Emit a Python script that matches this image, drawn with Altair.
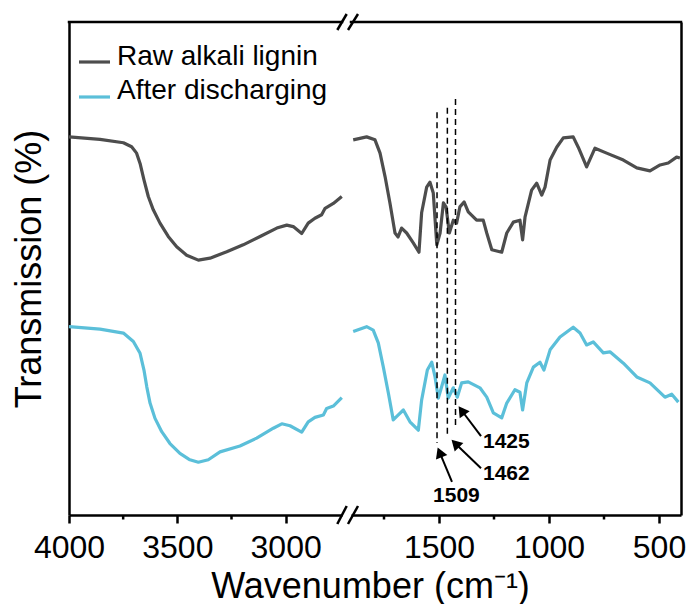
import altair as alt
import pandas as pd

FONT = "Liberation Sans"
SAMPLES = ["Raw alkali lignin", "After discharging"]
COLORS = ["#4d4d4d", "#5bbfd9"]

# ---- spectra, high-wavenumber window (4000-2740 cm-1) ----
raw_hi_wn = [4000, 3857, 3749, 3711, 3688, 3672, 3654, 3634, 3611, 3580, 3542,
             3503, 3457, 3403, 3349, 3272, 3196, 3118, 3041, 2995, 2965, 2926,
             2896, 2865, 2834, 2818, 2780, 2741]
raw_hi_t = [76.7, 76.2, 75.5, 74.7, 73.4, 71.3, 68.0, 64.6, 61.9, 59.2, 56.5,
            54.4, 52.7, 51.7, 52.1, 53.4, 54.8, 56.5, 58.2, 58.8, 58.5, 57.1,
            59.2, 60.2, 60.9, 62.2, 63.2, 64.6]
dis_hi_wn = [4000, 3857, 3749, 3703, 3672, 3654, 3641, 3626, 3603, 3572, 3534,
             3488, 3442, 3403, 3357, 3303, 3211, 3134, 3057, 3018, 2980, 2926,
             2896, 2865, 2826, 2811, 2780, 2741]
dis_hi_t = [38.2, 37.7, 36.9, 35.2, 32.8, 29.4, 26.0, 22.7, 19.6, 16.9, 14.5,
            12.5, 11.2, 10.7, 11.2, 12.8, 14.0, 15.6, 17.6, 18.5, 18.1, 16.8,
            18.9, 19.8, 20.3, 21.6, 22.1, 23.8]

# ---- spectra, fingerprint window (1900-400 cm-1) ----
raw_lo_wn = [1890, 1829, 1791, 1768, 1745, 1723, 1700, 1686, 1670, 1647,
             1617, 1591, 1579, 1556, 1541, 1526, 1510, 1495, 1480, 1468,
             1453, 1435, 1420, 1405, 1386, 1367, 1329, 1299, 1283, 1260,
             1215, 1192, 1162, 1132, 1120, 1109, 1079, 1056, 1033, 1018,
             995, 965, 935, 890, 867, 829, 791, 738, 662, 601,
             541, 495, 458, 420, 405]
raw_lo_t = [76.1, 76.7, 76.1, 73.4, 68.6, 63.3, 57.2, 56.4, 58.2, 57.2,
            55.2, 53.3, 61.3, 66.5, 67.5, 65.3, 54.8, 57.2, 63.3, 62.5,
            57.2, 59.8, 59.2, 62.5, 63.5, 61.5, 59.8, 59.8, 57.2, 53.8,
            53.3, 57.2, 59.4, 59.8, 55.8, 60.4, 65.9, 67.3, 64.9, 66.5,
            72.0, 74.6, 76.5, 76.7, 74.6, 70.6, 74.4, 73.4, 72.0, 70.4,
            69.8, 71.0, 71.4, 72.6, 72.4]
dis_lo_wn = [1890, 1829, 1799, 1776, 1753, 1730, 1708, 1685, 1662, 1632,
             1594, 1579, 1553, 1533, 1518, 1503, 1488, 1473, 1458, 1435,
             1417, 1397, 1367, 1314, 1283, 1253, 1215, 1192, 1155, 1132,
             1120, 1101, 1071, 1041, 1023, 995, 950, 890, 859, 829,
             799, 753, 723, 662, 601, 541, 473, 442, 412]
dis_lo_t = [37.2, 38.2, 37.5, 34.9, 30.0, 24.7, 19.3, 20.3, 21.3, 18.9,
            17.2, 23.3, 29.4, 31.0, 28.0, 23.7, 26.0, 28.4, 23.7, 25.8,
            23.9, 26.8, 27.0, 25.8, 23.9, 20.7, 19.7, 22.7, 25.4, 24.9,
            21.3, 26.8, 30.0, 31.0, 29.4, 33.5, 36.1, 38.1, 36.9, 34.5,
            35.1, 32.9, 33.1, 30.8, 28.0, 26.8, 23.9, 24.5, 22.9]

# ---- axes ----
left_major = [4000, 3500, 3000]
left_minor = [3750, 3250]
right_major = [1500, 1000, 500]
right_minor = [1750, 1250, 750]

# ---- annotations ----
peak_wn = [1509, 1462, 1425]
peak_top = [81.7, 82.6, 84.4]
peak_bottom = [14.6, 16.2, 17.8]
arrow_tail_wn = [1441, 1309, 1309]
arrow_tail_t = [6.7, 9.5, 16.0]
arrow_tip_wn = [1497, 1426, 1397]
arrow_tip_t = [12.7, 14.5, 21.2]
arrow_angle = [338, 315, 325]
label_wn = [1527, 1300, 1300]
label_t = [2.6, 7.1, 13.6]
label_text = ["1509", "1462", "1425"]

rows = []
for wns, ts, s, part in [(raw_hi_wn, raw_hi_t, SAMPLES[0], "hi"),
                         (dis_hi_wn, dis_hi_t, SAMPLES[1], "hi"),
                         (raw_lo_wn, raw_lo_t, SAMPLES[0], "lo"),
                         (dis_lo_wn, dis_lo_t, SAMPLES[1], "lo")]:
    for w, t in zip(wns, ts):
        rows.append({"wn": w, "T": t, "sample": s, "part": part})
df = pd.DataFrame(rows)

W_L, W_R, H = 273, 330, 493
LW = 2.5

color = alt.Color("sample:N", scale=alt.Scale(domain=SAMPLES, range=COLORS), legend=None)
y_scale = alt.Scale(domain=[0, 100], nice=False, zero=False)

axis_common = dict(domainColor="black", domainWidth=LW, tickColor="black", tickWidth=LW,
                   tickSize=8, labelFont=FONT, labelFontSize=32, labelColor="black",
                   labelPadding=9, labelFlush=False, grid=False, format="d",
                   labelOverlap=False)

x_left = alt.X("wn:Q", scale=alt.Scale(domain=[4000, 2740], nice=False, zero=False),
               axis=alt.Axis(values=left_major, title="Wavenumber (cm⁻¹)",
                             titleFont=FONT, titleFontSize=36, titleFontWeight="normal",
                             titleColor="black", titleX=301, titleY=82,
                             titleBaseline="alphabetic", titleAlign="center",
                             **axis_common))
x_right = alt.X("wn:Q", scale=alt.Scale(domain=[1900, 400], nice=False, zero=False),
                axis=alt.Axis(values=right_major, title=None, **axis_common))
y_left = alt.Y("T:Q", scale=y_scale,
               axis=alt.Axis(title="Transmission (%)", labels=False, ticks=False, grid=False,
                             domainColor="black", domainWidth=LW, titleFont=FONT,
                             titleFontSize=36, titleFontWeight="normal", titleColor="black",
                             titlePadding=21))
y_right = alt.Y("T:Q", scale=y_scale,
                axis=alt.Axis(orient="right", title=None, labels=False, ticks=False,
                              grid=False, domainColor="black", domainWidth=LW))

one = alt.Data(values=[{"k": 0}])

def spectra(part, xenc, yenc):
    return alt.Chart(df[df.part == part]).mark_line(strokeWidth=3.2, strokeJoin="round").encode(
        x=xenc, y=yenc, color=color, detail="sample:N")

def minor_ticks(vals, xenc):
    return alt.Chart(pd.DataFrame({"wn": vals})).mark_rule(
        color="black", strokeWidth=LW).encode(x=xenc, y=alt.value(H), y2=alt.value(H + 4.5))

def hline(x0, x1, y):
    return alt.Chart(one).mark_rule(color="black", strokeWidth=LW, strokeCap="square").encode(
        x=alt.value(x0), x2=alt.value(x1), y=alt.value(y))

# legend (manual, drawn inside the left panel)
leg = pd.DataFrame({"sample": SAMPLES, "ly": [40, 75], "ty": [43, 77]})
legend_lines = alt.Chart(leg).mark_rule(strokeWidth=3.2).encode(
    x=alt.value(10), x2=alt.value(41), y=alt.Y("ly:Q", scale=None), color=color)
legend_text = alt.Chart(leg).mark_text(
    font=FONT, fontSize=28, align="left", baseline="alphabetic", color="black").encode(
    x=alt.value(48), y=alt.Y("ty:Q", scale=None), text="sample:N")

anchor = alt.Chart(one).mark_square(size=1, opacity=0).encode(
    x=alt.value(-68.5), y=alt.value(-21.5))

left = alt.layer(
    spectra("hi", x_left, y_left),
    minor_ticks(left_minor, x_left),
    hline(0, W_L, 0),
    legend_lines, legend_text, anchor,
).properties(width=W_L, height=H)

peaks = pd.DataFrame({"wn": peak_wn, "T": peak_top, "T2": peak_bottom})
dashed = alt.Chart(peaks).mark_rule(color="black", strokeWidth=1.5, strokeDash=[6, 4]).encode(
    x=x_right, y=y_right, y2="T2:Q")

arrows = pd.DataFrame({"wn": arrow_tail_wn, "T": arrow_tail_t,
                       "wn2": arrow_tip_wn, "T2": arrow_tip_t})
arrow_lines = alt.Chart(arrows).mark_rule(color="black", strokeWidth=2).encode(
    x=x_right, y=y_right, x2="wn2:Q", y2="T2:Q")
heads = pd.DataFrame({"wn": arrow_tip_wn, "T": arrow_tip_t, "ang": arrow_angle})
arrow_heads = alt.Chart(heads).mark_point(shape="triangle-up", filled=True, size=150,
                                          color="black", fillOpacity=1, strokeWidth=0).encode(
    x=x_right, y=y_right, angle=alt.Angle("ang:Q", scale=None))
labels = pd.DataFrame({"wn": label_wn, "T": label_t, "txt": label_text})
peak_labels = alt.Chart(labels).mark_text(font=FONT, fontSize=21, fontWeight="bold",
                                          align="left", baseline="alphabetic",
                                          color="black").encode(
    x=x_right, y=y_right, text="txt:N")

def slash(x0, y0, x1, y1):
    return alt.Chart(one).mark_rule(color="black", strokeWidth=LW).encode(
        x=alt.value(x0), y=alt.value(y0), x2=alt.value(x1), y2=alt.value(y1))

breaks = [slash(-13.7, 8, -4.3, -8), slash(-3.0, 8, 7.0, -8),
          slash(-13.7, H + 9, -4.3, H - 9), slash(-3.0, H + 9, 7.0, H - 9)]

right = alt.layer(
    spectra("lo", x_right, y_right),
    minor_ticks(right_minor, x_right),
    hline(0, W_R, 0),
    dashed, arrow_lines, arrow_heads, peak_labels,
    *breaks,
).properties(width=W_R, height=H)

chart = alt.hconcat(left, right, spacing=9, bounds="flush").properties(
    padding=0, background="white"
).configure(font=FONT).configure_view(stroke="transparent", strokeWidth=0)

chart.save("out.html", embed_options={"renderer": "svg", "actions": False})
